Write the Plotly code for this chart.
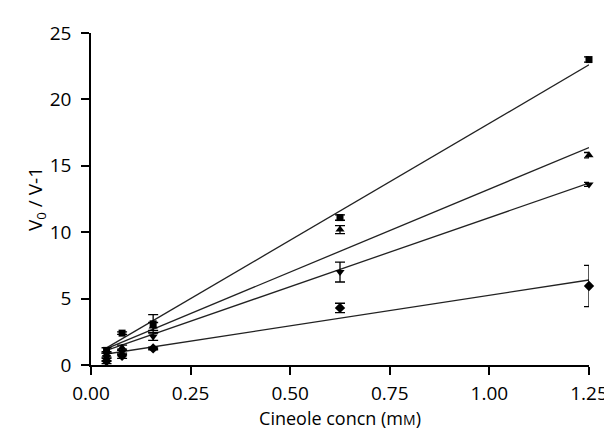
import plotly.graph_objects as go

# Data
conc = [0.039, 0.078, 0.156, 0.625, 1.25]
series_names = ["square", "triangle-up", "triangle-down", "diamond"]
sq_vals = [1.1, 2.4, 3.1, 11.1, 23.0]
sq_err = [0.2, 0.1, 0.7, 0.2, 0.2]
tu_vals = [0.8, 1.3, 2.9, 10.2, 15.8]
tu_err = [0.2, 0.2, 0.3, 0.3, 0.2]
td_vals = [0.6, 1.0, 2.15, 7.0, 13.6]
td_err = [0.3, 0.2, 0.3, 0.75, 0.15]
di_vals = [0.3, 0.7, 1.25, 4.3, 5.95]
di_err = [0.2, 0.2, 0.1, 0.35, 1.55]

# Fitted lines (slope, intercept)
slopes = [17.6, 12.5, 10.4, 4.6]
intercepts = [0.6, 0.75, 0.7, 0.65]
line_x = [conc[0], conc[-1]]

x_ticks = [0.0, 0.25, 0.5, 0.75, 1.0, 1.25]
y_ticks = [0, 5, 10, 15, 20, 25]

fig = go.Figure()
vals = [sq_vals, tu_vals, td_vals, di_vals]
errs = [sq_err, tu_err, td_err, di_err]
symbols = ["square", "triangle-up", "triangle-down", "diamond"]
sizes = [7, 8, 8, 8]

for s, b, name in zip(slopes, intercepts, series_names):
    fig.add_trace(go.Scatter(
        x=line_x, y=[b + s * xx for xx in line_x], mode="lines",
        line=dict(color="#222", width=1.3), showlegend=False,
        hoverinfo="skip", cliponaxis=False))

for v, e, sym, sz, name in zip(vals, errs, symbols, sizes, series_names):
    fig.add_trace(go.Scatter(
        x=conc, y=v, mode="markers", name=name,
        marker=dict(symbol=sym, size=sz, color="black"),
        error_y=dict(type="data", array=e, visible=True, color="black",
                     thickness=1.3, width=5),
        showlegend=False, cliponaxis=False))

font_family = "Open Sans, Noto Sans, sans-serif"
fig.update_layout(
    width=612, height=431,
    margin=dict(l=83, r=19, t=19, b=74),
    plot_bgcolor="white", paper_bgcolor="white",
    font=dict(family=font_family, size=19, color="black"),
    xaxis=dict(
        range=[0, 1.25], tickvals=x_ticks,
        ticktext=[f"{t:.2f}" for t in x_ticks],
        showgrid=False, zeroline=False, showline=True,
        linecolor="black", linewidth=1.5,
        ticks="outside", ticklen=8, tickwidth=1.5, tickcolor="black",
        tickfont=dict(size=19), ticklabelstandoff=2,
        title=dict(text="Cineole concn (m<span style='font-size:14px'>M</span>)",
                   font=dict(size=18), standoff=0),
    ),
    yaxis=dict(
        range=[0, 25], tickvals=y_ticks,
        showgrid=False, zeroline=False, showline=True,
        linecolor="black", linewidth=1.5,
        ticks="outside", ticklen=8, tickwidth=1.5, tickcolor="black",
        tickfont=dict(size=19), ticklabelstandoff=6,
        title=dict(text="V<sub>0</sub> / V-1", font=dict(size=19), standoff=2),
    ),
)

fig.write_html("out.html")
